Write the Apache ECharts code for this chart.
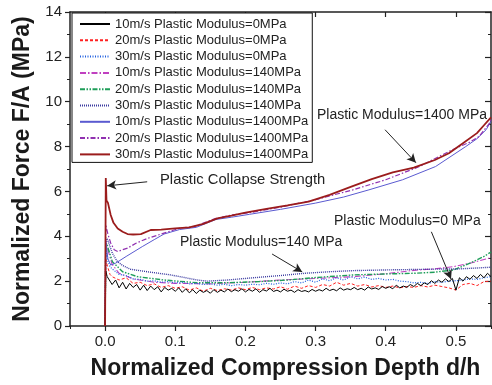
<!DOCTYPE html>
<html>
<head>
<meta charset="utf-8">
<script src="https://cdn.jsdelivr.net/npm/echarts@6/dist/echarts.min.js"></script>
<style>
html, body { margin: 0; padding: 0; background: #fff; }
#chart { width: 492px; height: 385px; }
</style>
</head>
<body>
<div id="chart"></div>
<script>
// 曲线数据
var names = [
	'10m/s Plastic Modulus=0MPa', '20m/s Plastic Modulus=0MPa', '30m/s Plastic Modulus=0MPa',
	'10m/s Plastic Modulus=140MPa', '20m/s Plastic Modulus=140MPa', '30m/s Plastic Modulus=140MPa',
	'10m/s Plastic Modulus=1400MPa', '20m/s Plastic Modulus=1400MPa', '30m/s Plastic Modulus=1400MPa'
];

// 0MPa, 10m/s (噪声大)
var depthFine = [0, 0.001, 0.003,
	0.005, 0.01, 0.015, 0.02, 0.025, 0.03, 0.035, 0.04, 0.045, 0.05,
	0.055, 0.06, 0.065, 0.07, 0.075, 0.08, 0.085, 0.09, 0.095, 0.1,
	0.105, 0.11, 0.115, 0.12, 0.125, 0.13, 0.135, 0.14, 0.145, 0.15,
	0.155, 0.16, 0.165, 0.17, 0.175, 0.18, 0.185, 0.19, 0.195, 0.2,
	0.205, 0.21, 0.215, 0.22, 0.225, 0.23, 0.235, 0.24, 0.245, 0.25,
	0.255, 0.26, 0.265, 0.27, 0.275, 0.28, 0.285, 0.29, 0.295, 0.3,
	0.305, 0.31, 0.315, 0.32, 0.325, 0.33, 0.335, 0.34, 0.345, 0.35,
	0.355, 0.36, 0.365, 0.37, 0.375, 0.38, 0.385, 0.39, 0.395, 0.4,
	0.405, 0.41, 0.415, 0.42, 0.425, 0.43, 0.435, 0.44, 0.445, 0.45,
	0.455, 0.46, 0.465, 0.47, 0.475, 0.48, 0.485, 0.49, 0.495, 0.5,
	0.505, 0.51, 0.515, 0.52, 0.525, 0.53, 0.535, 0.54, 0.545, 0.55];
var force0_10 = [0, 2.45, 2.2,
	2.15, 1.85, 2.05, 1.7, 1.95, 1.65, 1.9, 1.72, 1.85, 1.6,
	1.82, 1.58, 1.78, 1.62, 1.75, 1.52, 1.72, 1.6, 1.68, 1.55,
	1.7, 1.5, 1.66, 1.48, 1.62, 1.45, 1.6, 1.5, 1.58, 1.46,
	1.62, 1.5, 1.6, 1.52, 1.65, 1.53, 1.62, 1.55, 1.66, 1.52,
	1.63, 1.55, 1.66, 1.5, 1.62, 1.56, 1.68, 1.54, 1.6, 1.52,
	1.64, 1.55, 1.6, 1.5, 1.62, 1.54, 1.58, 1.52, 1.63, 1.55,
	1.62, 1.56, 1.68, 1.58, 1.64, 1.57, 1.7, 1.6, 1.66, 1.62,
	1.72, 1.62, 1.68, 1.6, 1.74, 1.65, 1.7, 1.63, 1.76, 1.68,
	1.75, 1.66, 1.82, 1.7, 1.78, 1.72, 1.85, 1.76, 1.9, 1.8,
	1.92, 1.85, 2.02, 1.9, 2.05, 1.95, 2.1, 1.98, 2.12, 1.6,
	2.15, 2.0, 2.2, 2.08, 2.25, 2.12, 2.3, 2.15, 2.35, 2.2];

// 0MPa, 20m/s 和 30m/s
var depthCoarse = [0, 0.001, 0.004, 0.007,
	0.01, 0.02, 0.03, 0.04, 0.05, 0.06, 0.07, 0.08, 0.09, 0.1,
	0.11, 0.12, 0.13, 0.14, 0.15, 0.16, 0.17, 0.18, 0.19, 0.2,
	0.21, 0.22, 0.23, 0.24, 0.25, 0.26, 0.27, 0.28, 0.29, 0.3,
	0.31, 0.32, 0.33, 0.34, 0.35, 0.36, 0.37, 0.38, 0.39, 0.4,
	0.41, 0.42, 0.43, 0.44, 0.45, 0.46, 0.47, 0.48, 0.49, 0.5,
	0.51, 0.52, 0.53, 0.54, 0.55];
var force0_20 = [0, 2.95, 2.6, 2.3,
	2.2, 2.05, 2.15, 1.9, 1.95, 1.8, 1.88, 1.72, 1.8, 1.68,
	1.75, 1.6, 1.7, 1.55, 1.68, 1.58, 1.66, 1.6, 1.7, 1.62,
	1.72, 1.62, 1.7, 1.65, 1.75, 1.64, 1.78, 1.68, 1.8, 1.72,
	1.85, 1.78, 1.95, 1.82, 1.9, 1.78, 1.85, 1.74, 1.8, 1.72,
	1.78, 1.7, 1.76, 1.72, 1.8, 1.74, 1.82, 1.76, 1.7, 1.6,
	1.85, 1.9, 1.8, 1.98, 2.0];
var force0_30 = [0, 3.4, 2.9, 2.65,
	2.55, 2.3, 2.25, 2.1, 2.08, 2.0, 2.02, 1.95, 1.98, 1.92,
	1.95, 1.88, 1.9, 1.85, 1.88, 1.82, 1.86, 1.8, 1.85, 1.82,
	1.86, 1.84, 1.9, 1.86, 1.92, 1.88, 1.98, 1.92, 2.05, 1.95,
	2.1, 2.02, 2.15, 2.05, 2.2, 2.1, 2.18, 2.08, 2.12, 2.05,
	2.08, 2.0, 1.98, 1.92, 1.95, 1.9, 1.98, 1.95, 2.0, 2.02,
	2.05, 2.1, 2.08, 2.15, 2.2];

// 140MPa
var depth140_10 = [0, 0.001, 0.003, 0.01, 0.02, 0.04, 0.07, 0.1, 0.15, 0.2, 0.25, 0.3, 0.355, 0.4, 0.44, 0.47, 0.497, 0.52, 0.545, 0.55];
var force140_10 = [0, 3.3, 3.5, 2.75, 2.35, 2.1, 1.95, 1.9, 1.88, 1.95, 2.05, 2.12, 2.2, 2.33, 2.48, 2.55, 2.65, 2.8, 3.0, 3.05];
var depth140_20 = [0, 0.001, 0.002, 0.0104, 0.025, 0.046, 0.084, 0.131, 0.174, 0.22, 0.26, 0.3, 0.355, 0.4, 0.44, 0.47, 0.497, 0.52, 0.54, 0.55];
var force140_20 = [0, 3.5, 3.69, 2.87, 2.42, 2.2, 2.05, 1.93, 1.93, 1.98, 2.05, 2.16, 2.28, 2.32, 2.35, 2.4, 2.5, 2.8, 3.1, 3.3];
var depth140_30 = [0, 0.001, 0.003, 0.0104, 0.0175, 0.025, 0.036, 0.06, 0.093, 0.115, 0.131, 0.146, 0.174, 0.2, 0.25, 0.284, 0.32, 0.355, 0.4, 0.44, 0.48, 0.5, 0.52, 0.55];
var force140_30 = [0, 3.7, 3.9, 3.24, 2.87, 2.7, 2.53, 2.42, 2.28, 2.15, 2.05, 2.0, 2.05, 2.12, 2.25, 2.35, 2.42, 2.47, 2.5, 2.52, 2.54, 2.54, 2.57, 2.62];

// 1400MPa
var depth1400_10 = [0, 0.001, 0.004, 0.008, 0.015, 0.03, 0.053, 0.07, 0.084, 0.106, 0.13, 0.158, 0.18, 0.206, 0.25, 0.3, 0.34, 0.376, 0.424, 0.471, 0.514, 0.53, 0.543, 0.55];
var force1400_10 = [0, 3.8, 3.0, 2.72, 2.8, 3.1, 3.54, 3.85, 4.1, 4.3, 4.4, 4.75, 4.85, 4.98, 5.2, 5.48, 5.75, 6.07, 6.52, 7.11, 8.0, 8.35, 8.75, 9.12];
var depth1400_20 = [0, 0.001, 0.004, 0.008, 0.013, 0.018, 0.025, 0.032, 0.044, 0.06, 0.084, 0.106, 0.127, 0.158, 0.18, 0.206, 0.25, 0.3, 0.353, 0.4, 0.448, 0.495, 0.52, 0.533, 0.547, 0.55];
var force1400_20 = [0, 4.5, 4.1, 3.7, 3.4, 3.32, 3.4, 3.47, 3.69, 3.9, 4.14, 4.36, 4.43, 4.8, 4.95, 5.05, 5.3, 5.63, 6.07, 6.52, 7.11, 7.86, 8.2, 8.45, 9.0, 9.2];
var depth1400_30 = [0, 0.001, 0.002, 0.004, 0.008, 0.012, 0.018, 0.025, 0.032, 0.04, 0.051, 0.065, 0.08, 0.1, 0.12, 0.14, 0.16, 0.18, 0.2, 0.23, 0.26, 0.29, 0.32, 0.35, 0.38, 0.41, 0.44, 0.47, 0.49, 0.51, 0.53, 0.54, 0.55];
var force1400_30 = [0, 6.6, 5.6, 5.5, 4.95, 4.6, 4.35, 4.2, 4.1, 4.08, 4.1, 4.28, 4.3, 4.35, 4.4, 4.55, 4.8, 4.92, 5.05, 5.22, 5.38, 5.55, 5.85, 6.2, 6.55, 6.85, 7.06, 7.4, 7.7, 8.15, 8.6, 8.95, 9.3];

// 坐标轴刻度
var xMajorTicks = [0, 0.1, 0.2, 0.3, 0.4, 0.5];
var xMinorTicks = [-0.05, 0.05, 0.15, 0.25, 0.35, 0.45, 0.55];

// 注释箭头 [起点, 终点]
var arrows = [
	[[0.060, 6.43], [0.003, 6.25]],
	[[0.399, 8.75], [0.443, 7.28]],
	[[0.238, 3.21], [0.281, 2.41]],
	[[0.465, 4.20], [0.493, 2.10]]
];

function zip(xs, ys) {
	var out = [];
	for (var i = 0; i < xs.length; i++) {
		out.push([xs[i], ys[i]]);
	}
	return out;
}

var font = 'Liberation Sans, Arial, Helvetica, sans-serif';
var axisColor = '#222';

function lineSeries(name, data, color, type, width, z) {
	return {
		name: name,
		type: 'line',
		data: data,
		symbol: 'none',
		showSymbol: false,
		z: z || 2,
		lineStyle: { color: color, width: width, type: type },
		itemStyle: { color: color }
	};
}

var series = [
	lineSeries(names[0], zip(depthFine, force0_10), '#000000', 'solid', 1, 5),
	lineSeries(names[1], zip(depthCoarse, force0_20), '#ff2020', [3, 2], 1, 4),
	lineSeries(names[2], zip(depthCoarse, force0_30), '#2060e0', [1, 1.5], 1.2, 3),
	lineSeries(names[3], zip(depth140_10, force140_10), '#c040c0', [6, 2, 1.5, 2], 1.1),
	lineSeries(names[4], zip(depth140_20, force140_20), '#1f9e5a', [5, 1.5, 1.5, 1.5, 1.5, 1.5], 1.4),
	lineSeries(names[5], zip(depth140_30, force140_30), '#3a3aa0', [1, 1], 1.4),
	lineSeries(names[6], zip(depth1400_10, force1400_10), '#5a5ad0', 'solid', 1),
	lineSeries(names[7], zip(depth1400_20, force1400_20), '#9030b0', [5, 2, 1.5, 2], 1.2),
	lineSeries(names[8], zip(depth1400_30, force1400_30), '#9b1c1c', 'solid', 1.8, 6)
];

// 箭头
series.push({
	name: 'arrows',
	type: 'line',
	data: [],
	silent: true,
	markLine: {
		silent: true,
		symbol: ['none', 'arrow'],
		symbolSize: [7, 9],
		label: { show: false },
		lineStyle: { color: '#222', width: 1, type: 'solid' },
		animation: false,
		data: arrows.map(function(a) {
			return [{ coord: a[0] }, { coord: a[1] }];
		})
	}
});

function annot(text, left, top, size) {
	return {
		type: 'text',
		left: left,
		top: top,
		style: { text: text, fill: '#222', font: (size || 14) + 'px ' + font }
	};
}

var option = {
	animation: false,
	backgroundColor: '#fff',
	grid: { left: 70, right: 1, top: 12, bottom: 59 },
	legend: {
		orient: 'vertical',
		left: 72,
		top: 13,
		data: names,
		padding: [4, 4, 1, 7],
		itemWidth: 30,
		itemHeight: 10,
		itemGap: 2.3,
		itemStyle: { color: 'rgba(0,0,0,0)', borderWidth: 0, opacity: 0 },
		borderColor: '#111',
		borderWidth: 1,
		backgroundColor: '#fff',
		textStyle: { fontSize: 13, color: '#222', fontFamily: font, lineHeight: 14 }
	},
	xAxis: [{
		type: 'value',
		min: -0.05,
		max: 0.55,
		position: 'bottom',
		name: 'Normalized Compression Depth d/h',
		nameLocation: 'middle',
		nameGap: 31,
		nameTextStyle: { fontSize: 23, fontWeight: 'bold', color: '#1a1a1a', fontFamily: font, padding: [0, 0, 0, 10] },
		splitLine: { show: false },
		axisLine: { onZero: false, lineStyle: { color: axisColor, width: 1.5 } },
		axisTick: { length: 5, customValues: xMajorTicks, lineStyle: { color: axisColor, width: 1.2 } },
		axisLabel: {
			customValues: xMajorTicks,
			fontSize: 15, color: '#222', fontFamily: font, margin: 8,
			formatter: function(v) { return v.toFixed(1); }
		}
	}, {
		type: 'value', min: -0.05, max: 0.55, position: 'bottom',
		splitLine: { show: false },
		axisLine: { show: false },
		axisLabel: { show: false },
		axisTick: { length: 3, customValues: xMinorTicks, lineStyle: { color: axisColor } }
	}, {
		type: 'value', min: -0.05, max: 0.55, position: 'top',
		splitLine: { show: false },
		axisLine: { onZero: false, lineStyle: { color: axisColor, width: 1.5 } },
		axisLabel: { show: false },
		axisTick: { inside: true, length: 5, customValues: xMajorTicks, lineStyle: { color: axisColor, width: 1.2 } }
	}, {
		type: 'value', min: -0.05, max: 0.55, position: 'top',
		splitLine: { show: false },
		axisLine: { show: false },
		axisLabel: { show: false },
		axisTick: { inside: true, length: 3, customValues: xMinorTicks, lineStyle: { color: axisColor } }
	}],
	yAxis: [{
		type: 'value',
		min: 0,
		max: 14,
		interval: 2,
		position: 'left',
		name: 'Normalized Force F/A (MPa)',
		nameLocation: 'middle',
		nameGap: 36,
		nameTextStyle: { fontSize: 23, fontWeight: 'bold', color: '#1a1a1a', fontFamily: font },
		splitLine: { show: false },
		axisLine: { show: true, onZero: false, lineStyle: { color: axisColor, width: 1.5 } },
		axisTick: { show: true, length: 5, lineStyle: { color: axisColor, width: 1.2 } },
		minorTick: { show: true, splitNumber: 2, length: 3, lineStyle: { color: axisColor } },
		axisLabel: { fontSize: 15, color: '#222', fontFamily: font, margin: 8 }
	}, {
		type: 'value',
		min: 0,
		max: 14,
		interval: 2,
		position: 'right',
		splitLine: { show: false },
		axisLine: { show: true, onZero: false, lineStyle: { color: axisColor, width: 1.5 } },
		axisTick: { show: true, inside: true, length: 6, lineStyle: { color: axisColor, width: 1.2 } },
		minorTick: { show: true, splitNumber: 2, length: 3, lineStyle: { color: axisColor } },
		axisLabel: { show: false }
	}],
	graphic: [
		annot('Plastic Collapse Strength', 160, 172, 14.8),
		annot('Plastic Modulus=1400 MPa', 317, 108),
		annot('Plastic Modulus=140 MPa', 180, 235),
		annot('Plastic Modulus=0 MPa', 334, 214)
	],
	series: series
};

var myChart = echarts.init(document.getElementById('chart'));
myChart.setOption(option);
</script>
</body>
</html>
